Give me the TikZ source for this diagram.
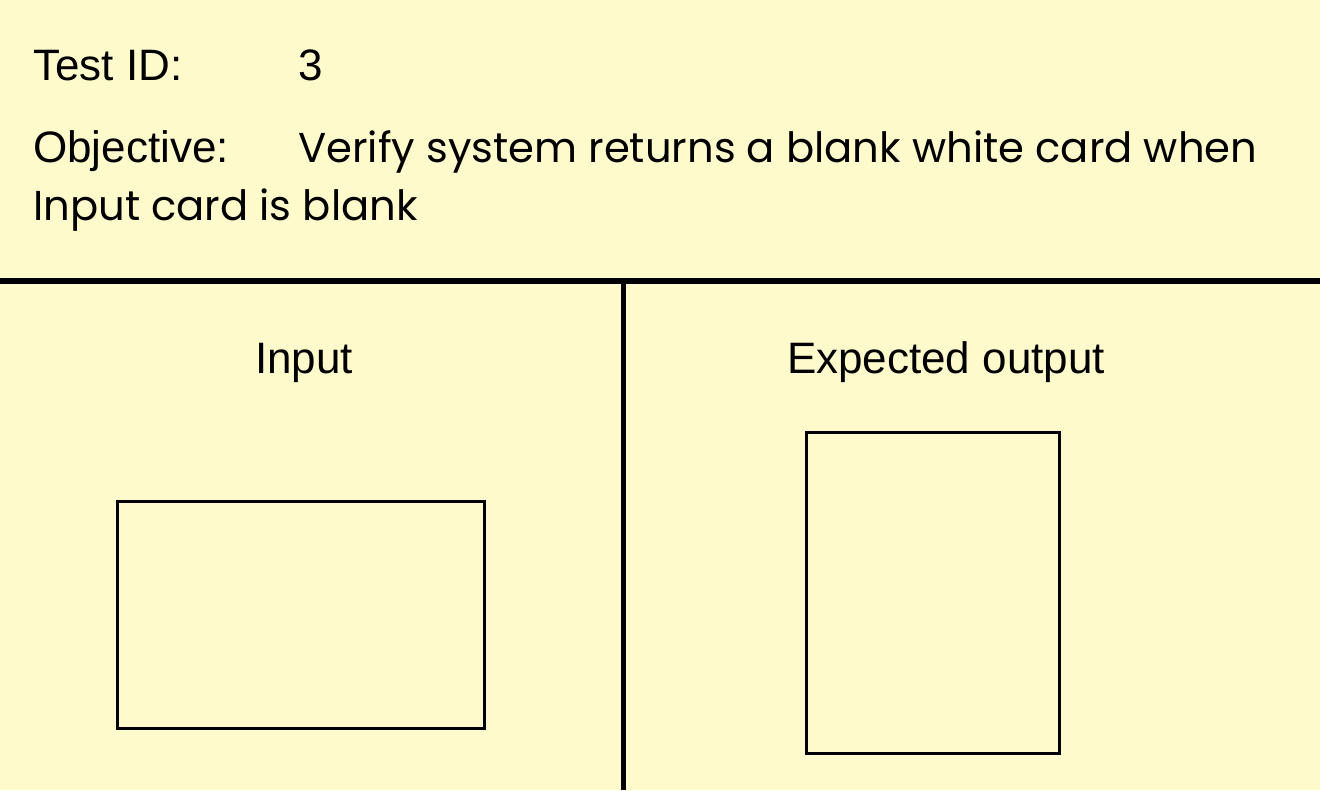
\documentclass[tikz,border=0pt]{standalone}
\usepackage{fontspec}
\setmainfont{Liberation Sans}
\newfontfamily\comicfont{Poppins}
\definecolor{bgyellow}{HTML}{FFFACC}
\begin{document}
\begin{tikzpicture}[x=1pt,y=-1pt,
  lbl/.style={anchor=base west,inner sep=0pt,font=\fontsize{44}{52}\selectfont},
  hand/.style={anchor=base west,inner sep=0pt,font=\comicfont\fontsize{41.7}{50}\selectfont},
  head/.style={anchor=base,inner sep=0pt,font=\fontsize{44}{52}\selectfont},
  card/.style={draw=black,line width=3pt}]
\useasboundingbox (0,0) rectangle (1320,790);
\fill[bgyellow] (0,0) rectangle (1320,790);
\node[lbl] (tid) at (33,80) {Test ID:};
\node[lbl] (tnum) at (298,80) {3};
\node[lbl] (obj) at (33,162) {Objective:};
\node[hand] (obj1) at (298,162) {Verify system returns a blank white card when};
\node[hand] (obj2) at (33,220) {Input card is blank};
\coordinate (hl) at (0,281);
\coordinate (hr) at (1320,281);
\coordinate (vt) at (623,281);
\coordinate (vb) at (623,790);
\draw[line width=6pt] (hl) -- (hr);
\draw[line width=5pt] (vt) -- (vb);
\node[head] (inp) at (304,373) {Input};
\node[head] (exp) at (946,373) {Expected output};
\draw[card] (117.5,501.5) rectangle (484,728.5);
\draw[card] (806.5,432) rectangle (1059.5,753.5);
\end{tikzpicture}
\end{document}
